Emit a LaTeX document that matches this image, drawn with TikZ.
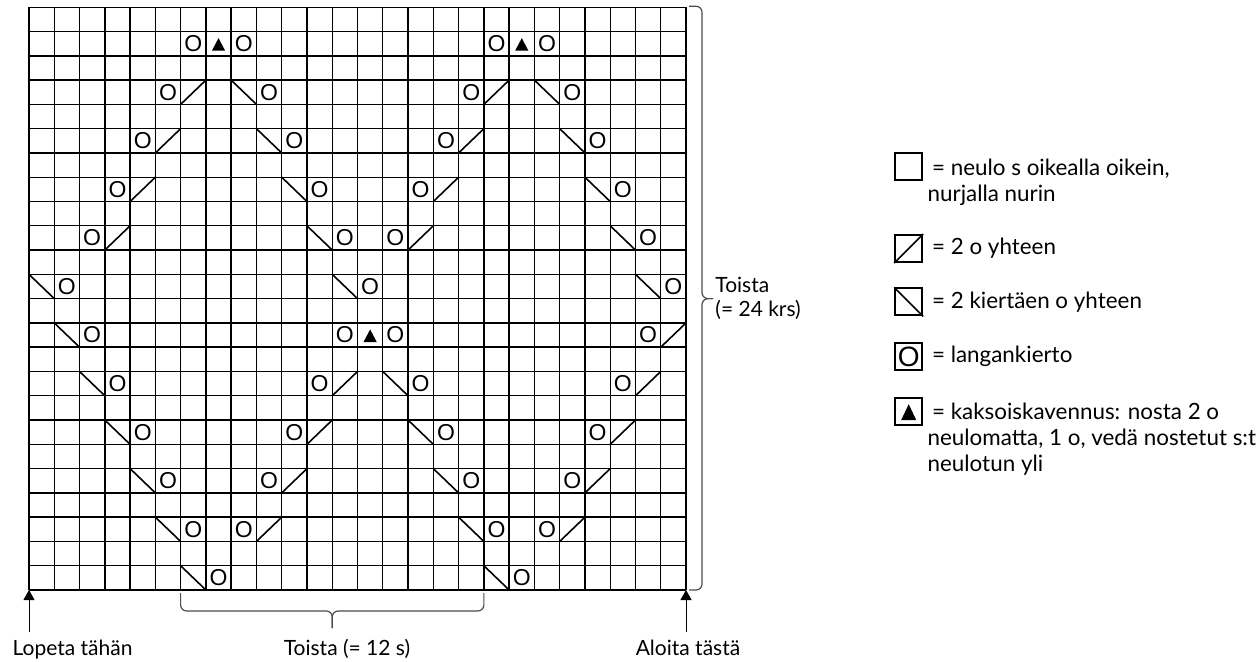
\documentclass[tikz,border=0pt]{standalone}
\usepackage{fontspec}
\setmainfont{Lato}
\newfontfamily\stitchfont{Liberation Sans}
\usetikzlibrary{arrows.meta}

\tikzset{
	gridline/.style={line width=0.7pt},
	decline/.style={line width=0.8pt},
	yarnover/.style={font=\stitchfont\fontsize{11.5}{12}\selectfont, inner sep=0pt},
	keybox/.style={draw, line width=1pt, minimum size=13.5pt, inner sep=0pt},
	keytext/.style={font=\fontsize{11.2}{13}\selectfont, align=left, inner sep=0pt},
	chartlabel/.style={font=\fontsize{10.5}{12}\selectfont},
	repbrace/.style={draw=black!70, line width=0.6pt, rounded corners=3pt},
	startarrow/.style={-{Triangle[width=5.5pt,length=5pt]}, line width=0.5pt},
}

\begin{document}
\begin{tikzpicture}[x=0.5pt, y=-0.5pt]
	\useasboundingbox (0,0) rectangle (1257,662);
	
	\begin{scope}[shift={(29,590)}, x=12.635pt, y=12.14pt]
	\foreach \i in {0,...,26} \draw[gridline] (\i,0) -- (\i,24);
	\foreach \j in {0,...,24} \draw[gridline] (0,\j) -- (26,\j);
	\coordinate (grid-sw) at (0,0);
	\coordinate (grid-se) at (26,0);
	\coordinate (grid-ne) at (26,24);
	\coordinate (grid-e) at (26,12);
	\coordinate (rep-w) at (6,0);
	\coordinate (rep-mid) at (12,0);
	\coordinate (rep-e) at (18,0);
	
	\foreach \c/\r in {7/23,9/23,19/23,21/23,6/21,10/21,18/21,22/21,5/19,11/19,17/19,23/19,
		4/17,12/17,16/17,24/17,3/15,13/15,15/15,25/15,2/13,14/13,26/13,3/11,13/11,15/11,25/11,
		4/9,12/9,16/9,24/9,5/7,11/7,17/7,23/7,6/5,10/5,18/5,22/5,7/3,9/3,19/3,21/3,8/1,20/1}
		\node[yarnover] (yo-\c-\r) at (\c-0.5,\r-0.5) {O};
	\foreach \c/\r in {7/21,19/21,6/19,18/19,5/17,17/17,4/15,16/15,26/11,13/9,25/9,
		12/7,24/7,11/5,23/5,10/3,22/3}
		\draw[decline] (\c-1,\r-1) -- (\c,\r);
	\foreach \c/\r in {9/21,21/21,10/19,22/19,11/17,23/17,12/15,24/15,1/13,13/13,25/13,
		2/11,3/9,15/9,4/7,16/7,5/5,17/5,6/3,18/3,7/1,19/1}
		\draw[decline] (\c-1,\r) -- (\c,\r-1);
	\foreach \c/\r in {8/23,20/23,14/11}
		\fill (\c-0.763,\r-0.79) -- (\c-0.237,\r-0.79) -- (\c-0.5,\r-0.27) -- cycle;
	\end{scope}
	
	\draw[repbrace] ([xshift=1.5pt,yshift=0.5pt]grid-ne) -| ([xshift=8pt]grid-e) -- ([xshift=13.5pt]grid-e);
	\draw[repbrace] ([xshift=1.5pt]grid-se) -| ([xshift=8pt]grid-e) -- ([xshift=13.5pt]grid-e);
	\draw[repbrace] ([yshift=-1.5pt]rep-w) |- ([yshift=-10.5pt]rep-mid) -- ([yshift=-19pt]rep-mid);
	\draw[repbrace] ([yshift=-1.5pt]rep-e) |- ([yshift=-10.5pt]rep-mid) -- ([yshift=-19pt]rep-mid);
	
	\node[chartlabel, anchor=west, align=left, inner sep=0pt] (rows) at (715,298) {Toista\\(= 24 krs)};
	\node[chartlabel, anchor=base] (repeat) at (347,655) {Toista (= 12 s)};
	\node[chartlabel, anchor=base] (stop) at (72.5,655) {Lopeta tähän};
	\node[chartlabel, anchor=base] (start) at (688,655) {Aloita tästä};
	\draw[startarrow] (grid-sw |- stop.north) -- (grid-sw);
	\draw[startarrow] (grid-se |- start.north) -- (grid-se);
	
	\node[keybox] (key-knit) at (908.7,167) {};
	\node[keybox] (key-k2tog) at (908.7,248.5) {};
	\node[keybox] (key-ssk) at (908.7,302) {};
	\node[keybox, font=\stitchfont\fontsize{14}{14}\selectfont] (key-yo) at (908.7,356.4) {O};
	\node[keybox] (key-dec) at (908.7,411) {};
	\draw[decline] (key-k2tog.south west) -- (key-k2tog.north east);
	\draw[decline] (key-ssk.north west) -- (key-ssk.south east);
	\fill ([shift={(-3.75pt,-4.5pt)}]key-dec.center) -- ([shift={(3.75pt,-4.5pt)}]key-dec.center)
		-- ([shift={(0pt,3.4pt)}]key-dec.center) -- cycle;
	
	\node[keytext, anchor=north west] (txt-knit) at ([xshift=2pt,yshift=-3pt]key-knit.north east)
		{\hspace*{0.2em}= neulo s oikealla oikein,\\nurjalla nurin};
	\node[keytext, anchor=west] (txt-k2tog) at ([xshift=2pt]key-k2tog.east) {\hspace*{0.2em}= 2 o yhteen};
	\node[keytext, anchor=west] (txt-ssk) at ([xshift=2pt]key-ssk.east) {\hspace*{0.2em}= 2 kiertäen o yhteen};
	\node[keytext, anchor=west] (txt-yo) at ([xshift=2pt]key-yo.east) {\hspace*{0.2em}= langankierto};
	\node[keytext, anchor=north west] (txt-dec) at ([xshift=2pt,yshift=-3pt]key-dec.north east)
		{\hspace*{0.2em}= kaksoiskavennus: nosta 2 o\\neulomatta, 1 o, vedä nostetut s:t\\neulotun yli};
	
\end{tikzpicture}
\end{document}
